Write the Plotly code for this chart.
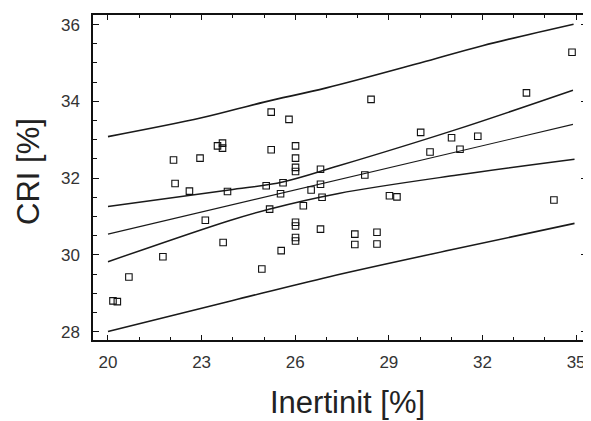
import plotly.graph_objects as go

# Scatter data: Inertinit [%] vs CRI [%]
inertinit = [20.16, 20.30, 20.67, 21.76, 22.10, 22.15, 22.61, 22.95, 23.12, 23.51,
             23.67, 23.67, 23.69, 23.83, 24.93, 25.07, 25.18, 25.23, 25.23, 25.53,
             25.55, 25.61, 25.80, 26.01, 26.01, 26.01, 26.01, 26.01, 26.01, 26.01,
             26.01, 26.26, 26.51, 26.81, 26.81, 26.86, 26.81, 27.91, 27.91, 28.23,
             28.43, 28.62, 28.62, 29.02, 29.26, 30.02, 30.32, 31.01, 31.28, 31.85,
             33.41, 34.29, 34.87]
cri = [28.80, 28.78, 29.42, 29.95, 32.47, 31.86, 31.66, 32.52, 30.90, 32.84,
       32.91, 32.78, 30.32, 31.65, 29.63, 31.80, 31.19, 33.72, 32.74, 31.59,
       30.11, 31.88, 33.53, 32.84, 32.52, 32.28, 32.17, 30.85, 30.75, 30.45,
       30.36, 31.28, 31.69, 32.23, 31.84, 31.50, 30.67, 30.54, 30.27, 32.08,
       34.05, 30.59, 30.28, 31.54, 31.51, 33.19, 32.68, 33.05, 32.75, 33.09,
       34.22, 31.43, 35.28]

# Regression line
reg_x = [20.0, 34.9]
reg_y = [30.54, 33.40]

# Confidence band curves
conf_up_x = [20.0, 23.88, 25.6, 27.39, 31.1, 34.9]
conf_up_y = [31.26, 31.69, 31.90, 32.32, 33.25, 34.29]
conf_lo_x = [20.0, 23.88, 25.16, 27.39, 31.2, 34.95]
conf_lo_y = [29.82, 30.89, 31.19, 31.60, 32.08, 32.49]

# Prediction band curves
pred_up_x = [20.0, 23.0, 25.0, 27.0, 30.0, 32.0, 34.92]
pred_up_y = [33.08, 33.57, 33.98, 34.35, 35.00, 35.45, 36.01]
pred_lo_x = [20.0, 24.0, 27.1, 31.0, 34.95]
pred_lo_y = [28.00, 28.81, 29.43, 30.13, 30.82]

x_ticks = [20, 23, 26, 29, 32, 35]
y_ticks = [28, 30, 32, 34, 36]

fig = go.Figure()

line_col = "#1a1a1a"
for xs, ys, w in [(pred_up_x, pred_up_y, 1.6), (pred_lo_x, pred_lo_y, 1.6),
                  (conf_up_x, conf_up_y, 1.5), (conf_lo_x, conf_lo_y, 1.5),
                  (reg_x, reg_y, 1.1)]:
    fig.add_trace(go.Scatter(x=xs, y=ys, mode="lines",
                             line=dict(color=line_col, width=w, shape="spline", smoothing=1.0),
                             showlegend=False, hoverinfo="skip"))

fig.add_trace(go.Scatter(x=inertinit, y=cri, mode="markers",
                         marker=dict(symbol="square-open", size=6.5, color="#111",
                                     line=dict(width=1.1, color="#111")),
                         showlegend=False))

axis_common = dict(showline=True, linecolor="#111", linewidth=1.5, mirror="allticks",
                   ticks="inside", tickcolor="#111", tickwidth=1.3,
                   showgrid=False, zeroline=False,
                   tickfont=dict(family="Liberation Sans, Arial, sans-serif", size=17, color="#333"))

fig.update_xaxes(range=[19.52, 35.35], tickvals=x_ticks, ticklen=5,
                 minor=dict(dtick=1, ticks="inside", ticklen=3, tickcolor="#111", tickwidth=1.2),
                 ticklabelstandoff=6, **axis_common)
fig.update_yaxes(range=[27.78, 36.25], tickvals=y_ticks, ticklen=6,
                 minor=dict(dtick=0.5, ticks="inside", ticklen=4, tickcolor="#111", tickwidth=1.2),
                 ticklabelstandoff=8, **axis_common)

fig.add_annotation(text="Inertinit [%]", xref="paper", yref="paper",
                   x=0.516, y=-0.193, xanchor="center", yanchor="middle", showarrow=False,
                   font=dict(family="Liberation Sans, Arial, sans-serif", size=31, color="#222"))
fig.add_annotation(text="CRI [%]", xref="paper", yref="paper",
                   x=-0.131, y=0.518, xanchor="center", yanchor="middle", showarrow=False,
                   textangle=-90,
                   font=dict(family="Liberation Sans, Arial, sans-serif", size=31, color="#222"))

# page body adds an 8px offset, so the figure is drawn 8px smaller
fig.update_layout(width=583, height=413, margin=dict(l=85, r=2, t=7, b=81),
                  paper_bgcolor="white", plot_bgcolor="white")

fig.write_html("out.html")
